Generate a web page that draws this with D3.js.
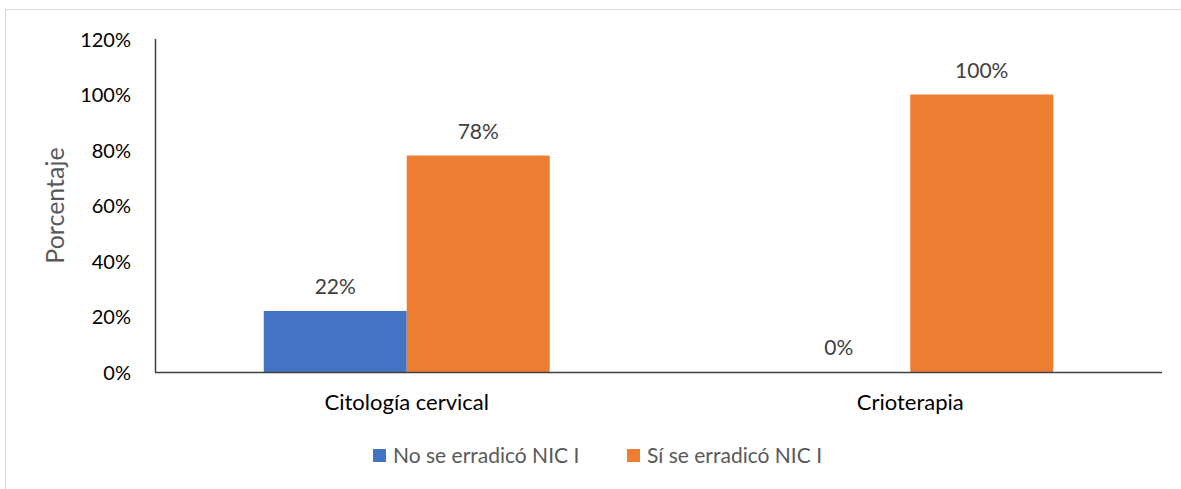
<!DOCTYPE html>
<meta charset="utf-8">
<style>
html, body {
  margin: 0;
  background: #fff;
}

.chart {
  display: block;
  font-family: Lato, "Open Sans", sans-serif;
}

.chart .frame {
  fill: none;
  stroke: #d9d9d9;
}

.chart .axis path {
  stroke: #404040;
  stroke-width: 1.5;
}

.chart .axis .tick line {
  display: none;
}

.chart .axis text {
  fill: #000;
  font-size: 20px;
  font-family: Lato, "Open Sans", sans-serif;
}

.chart .x-axis text {
  font-size: 22px;
}

.chart .value-label {
  fill: #404040;
  font-size: 21px;
}

.chart .axis-title {
  fill: #595959;
  font-size: 25px;
}

.chart .legend text {
  fill: #595959;
  font-size: 21px;
}
</style>
<body>

<svg class="chart"></svg>

<script src="https://d3js.org/d3.v7.min.js"></script>
<script type="text/javascript">
"use strict";

var categories = ["Citología cervical", "Crioterapia"];
var seriesNames = ["No se erradicó NIC I", "Sí se erradicó NIC I"];
var noValues = [22, 0];
var siValues = [78, 100];
var yTicks = [0, 20, 40, 60, 80, 100, 120];
var colors = ["#4472C4", "#ED7D31"];

var container = { width: 1181, height: 489 },
  margin = { top: 39, right: 19, bottom: 117, left: 155 },
  width = container.width - margin.left - margin.right,
  height = container.height - margin.top - margin.bottom;

var rows = categories.map(function (c, i) {
  return { category: c, values: [noValues[i], siValues[i]] };
});

var svg = d3.select(".chart")
  .attr("width", container.width)
  .attr("height", container.height);

// chart area border (only top and left edges show in the original)
svg.append("rect")
  .attr("class", "frame")
  .attr("x", 5.5)
  .attr("y", 9.5)
  .attr("width", container.width + 20)
  .attr("height", container.height + 20);

var g = svg.append("g")
  .attr("transform", "translate(" + margin.left + "," + margin.top + ")");

var x0 = d3.scaleBand()
  .domain(categories)
  .range([0, width])
  .paddingInner(0)
  .paddingOuter(0);

var innerPad = (x0.bandwidth() - 286) / 2 / x0.bandwidth();
var x1 = d3.scaleBand()
  .domain([0, 1])
  .range([0, x0.bandwidth()])
  .paddingInner(0)
  .paddingOuter(innerPad / (1 - 2 * innerPad) * 2);

var y = d3.scaleLinear()
  .domain([0, 120])
  .range([height, 0]);

var groups = g.selectAll(".group")
  .data(rows)
  .enter().append("g")
  .attr("class", "group")
  .attr("transform", function (d) { return "translate(" + x0(d.category) + ",0)"; });

var bars = groups.selectAll("g.bar")
  .data(function (d) { return d.values.map(function (v, i) { return { i: i, v: v }; }); })
  .enter().append("g")
  .attr("class", "bar");

bars.append("rect")
  .attr("x", function (d) { return x1(d.i); })
  .attr("y", function (d) { return y(d.v); })
  .attr("width", x1.bandwidth())
  .attr("height", function (d) { return height - y(d.v); })
  .attr("fill", function (d) { return colors[d.i]; });

bars.append("text")
  .attr("class", "value-label")
  .attr("text-anchor", "middle")
  .attr("x", function (d) { return x1(d.i) + x1.bandwidth() / 2; })
  .attr("y", function (d) { return y(d.v) - 17; })
  .text(function (d) { return d.v + "%"; });

g.append("g")
  .attr("class", "axis y-axis")
  .call(d3.axisLeft(y).tickValues(yTicks).tickSize(0).tickPadding(24)
    .tickFormat(function (d) { return d + "%"; }))
  .call(function (a) { a.select(".domain").attr("d", "M0.5," + height + "V0"); })
  .selectAll("text").attr("dy", "0.35em");

g.append("g")
  .attr("class", "axis x-axis")
  .attr("transform", "translate(0," + height + ")")
  .call(d3.axisBottom(x0).tickSize(0).tickPadding(22))
  .call(function (a) { a.select(".domain").attr("d", "M0,0.5H" + width); });

svg.append("text")
  .attr("class", "axis-title")
  .attr("text-anchor", "middle")
  .attr("transform", "translate(64," + (margin.top + height / 2) + ") rotate(-90)")
  .text("Porcentaje");

var legend = svg.append("g")
  .attr("class", "legend")
  .attr("transform", "translate(373,449)");

var legendX = [0, 254];
var items = legend.selectAll("g")
  .data(seriesNames)
  .enter().append("g")
  .attr("transform", function (d, i) { return "translate(" + legendX[i] + ",0)"; });

items.append("rect")
  .attr("width", 13)
  .attr("height", 13)
  .attr("fill", function (d, i) { return colors[i]; });

items.append("text")
  .attr("x", 20)
  .attr("y", 14)
  .text(function (d) { return d; });
</script>
</body>
